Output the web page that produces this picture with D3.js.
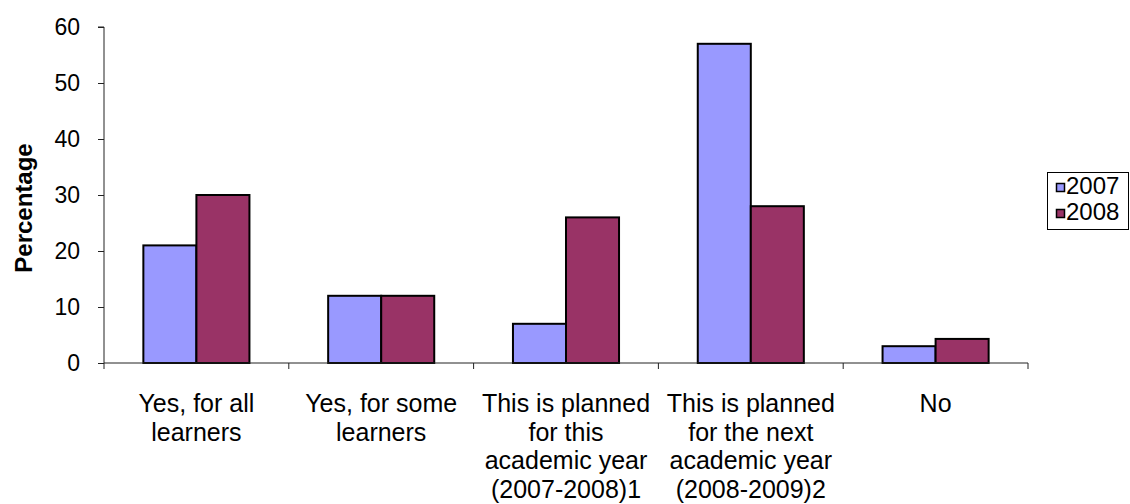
<!DOCTYPE html>
<html><head><meta charset="utf-8">
<script src="https://cdn.jsdelivr.net/npm/d3@7"></script>
<style>html,body{margin:0;padding:0;background:#fff;}svg{display:block;}</style>
</head><body>
<script>
const categories = [
  ["Yes, for all", "learners"],
  ["Yes, for some", "learners"],
  ["This is planned", "for this", "academic year", "(2007-2008)1"],
  ["This is planned", "for the next", "academic year", "(2008-2009)2"],
  ["No"]
];
const seriesNames = ["2007", "2008"];
const values2007 = [21, 12, 7, 57, 3];
const values2008 = [30, 12, 26, 28, 4.3];
const yTicks = [0, 10, 20, 30, 40, 50, 60];
const colors = ["#9999FF", "#993366"];

const W = 1130, H = 504;
const svg = d3.select("body").append("svg").attr("width", W).attr("height", H);
const font = "Liberation Sans, Arial, sans-serif";

const x0 = d3.scaleBand().domain(d3.range(categories.length)).range([104, 1028]).paddingInner(0.426).paddingOuter(0.213);
const x1 = d3.scaleBand().domain(seriesNames).range([0, x0.bandwidth()]).padding(0);
const y = d3.scaleLinear().domain([0, 60]).range([363, 27]);
const xTick = d3.scaleLinear().domain([0, categories.length]).range([104, 1028]);

const data = categories.map((c, i) => ({i, vals: [values2007[i], values2008[i]]}));

// bars
const g = svg.append("g");
data.forEach(d => {
  d.vals.forEach((v, k) => {
    g.append("rect")
      .attr("x", x0(d.i) + x1(seriesNames[k]))
      .attr("y", y(v))
      .attr("width", x1.bandwidth())
      .attr("height", y(0) - y(v))
      .attr("fill", colors[k])
      .attr("stroke", "#000")
      .attr("stroke-width", 2);
  });
});

// y axis
const yAxis = svg.append("g").attr("transform", "translate(104,0)")
  .call(d3.axisLeft(y).tickValues(yTicks).tickSize(6).tickPadding(18));
yAxis.select(".domain").attr("stroke", "#222").attr("d", "M-6," + y(60) + "H0V" + y(0));
yAxis.selectAll(".tick line").attr("stroke", "#222");
yAxis.selectAll("text").attr("font-family", font).attr("font-size", 23).attr("fill", "#000");

// x axis line + ticks
const xAxis = svg.append("g").attr("transform", "translate(0," + y(0) + ")");
xAxis.append("line").attr("x1", 104).attr("x2", 1028).attr("stroke", "#222");
d3.range(categories.length + 1).forEach(t => {
  xAxis.append("line").attr("x1", xTick(t)).attr("x2", xTick(t)).attr("y1", 0).attr("y2", 6).attr("stroke", "#222");
});

// category labels
categories.forEach((lines, i) => {
  const t = svg.append("text")
    .attr("font-family", font).attr("font-size", 25).attr("text-anchor", "middle").attr("fill", "#000");
  lines.forEach((ln, j) => {
    t.append("tspan").attr("x", x0(i) + x0.bandwidth() / 2).attr("y", 412 + j * 28.5).text(ln);
  });
});

// y title
svg.append("text")
  .attr("transform", "translate(32,208) rotate(-90)")
  .attr("text-anchor", "middle")
  .attr("font-family", font).attr("font-size", 24).attr("font-weight", "bold")
  .text("Percentage");

// legend
const lg = svg.append("g");
lg.append("rect").attr("x", 1047.5).attr("y", 172.5).attr("width", 81).attr("height", 57)
  .attr("fill", "#fff").attr("stroke", "#000");
seriesNames.forEach((s, k) => {
  lg.append("rect").attr("x", 1056.5).attr("y", 183.5 + k * 26).attr("width", 8).attr("height", 8)
    .attr("fill", colors[k]).attr("stroke", "#000").attr("stroke-width", 1.5);
  lg.append("text").attr("x", 1066).attr("y", 194 + k * 26)
    .attr("font-family", font).attr("font-size", 24).text(s);
});
</script>
</body></html>
